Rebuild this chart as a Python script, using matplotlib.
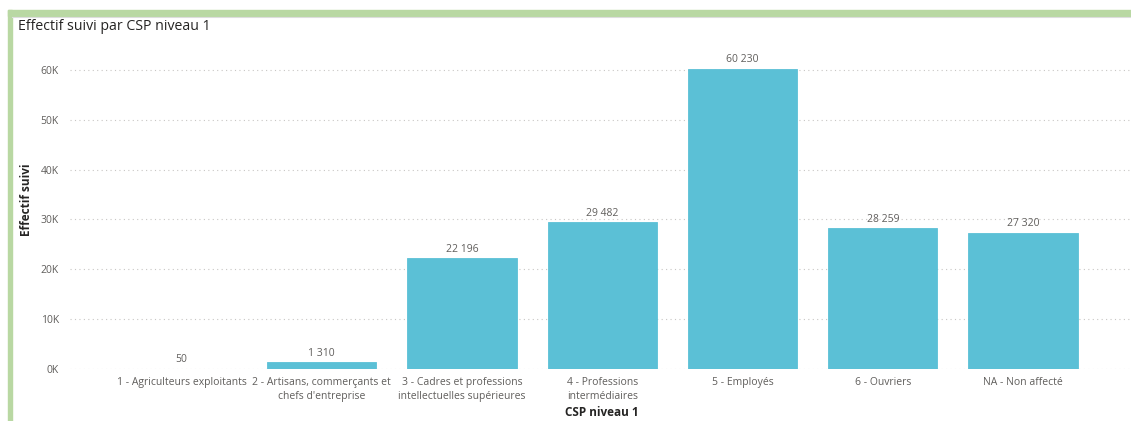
import numpy as np
import matplotlib.pyplot as plt
from matplotlib.patches import Rectangle
from matplotlib.lines import Line2D

plt.rcParams['font.family'] = ['Open Sans', 'DejaVu Sans']

# data
categories = ['1 - Agriculteurs exploitants',
              "2 - Artisans, commerçants et\nchefs d'entreprise",
              '3 - Cadres et professions\nintellectuelles supérieures',
              '4 - Professions\nintermédiaires',
              '5 - Employés',
              '6 - Ouvriers',
              'NA - Non affecté']
values = [50, 1310, 22196, 29482, 60230, 28259, 27320]
yticks = [0, 10000, 20000, 30000, 40000, 50000, 60000]
ytick_labels = ['0K', '10K', '20K', '30K', '40K', '50K', '60K']

bar_color = '#5BC0D6'
text_gray = '#605E5C'
dark = '#252423'
green = '#B9D8A3'

W, H = 1131, 421
fig = plt.figure(figsize=(W / 100, H / 100), dpi=100)

# frame of the card
fig.patches.append(Rectangle((8 / W, 0), 4 / W, (H - 10) / H, transform=fig.transFigure,
                             color=green, zorder=0))
fig.patches.append(Rectangle((8 / W, (H - 16) / H), (W - 8) / W, 6 / H, transform=fig.transFigure,
                             color=green, zorder=0))
fig.lines.append(Line2D([12 / W, 1], [(H - 16.5) / H] * 2, transform=fig.transFigure,
                        color='#DDDDDD', lw=0.8))

fig.text(18 / W, (H - 26) / H, 'Effectif suivi par CSP niveau 1', fontsize=10.2,
         color=dark, va='center', ha='left')

ax = fig.add_axes([70 / W, 52 / H, (W - 70) / W, 309 / H])
x = np.arange(len(categories))
ax.bar(x, values, width=0.78, color=bar_color, edgecolor=bar_color, linewidth=0.6, zorder=2)

for xi, v in zip(x, values):
    label = '{:,}'.format(v).replace(',', ' ')
    ax.annotate(label, (xi, v), xytext=(0, 2.5), textcoords='offset points',
                ha='center', va='bottom', fontsize=7.5, color=text_gray)

ax.set_xlim(-0.795, 6.77)
ax.set_ylim(0, 62000)
ax.set_yticks(yticks)
ax.set_yticklabels(ytick_labels)
ax.set_xticks(x)
ax.set_xticklabels(categories, linespacing=1.35)
ax.tick_params(axis='both', length=0, labelsize=7.5, colors=text_gray)
ax.tick_params(axis='y', pad=8)
ax.tick_params(axis='x', pad=6)
ax.grid(axis='y', linestyle=(0, (1, 3)), color='#C8C6C4', lw=0.8, zorder=0)
for s in ax.spines.values():
    s.set_visible(False)

fig.text(26 / W, (H - 200) / H, 'Effectif suivi', fontsize=8.5, color=dark,
         fontweight='bold', rotation=90, ha='center', va='center')
fig.text(602 / W, (H - 413) / H, 'CSP niveau 1', fontsize=8.5, color=dark,
         fontweight='bold', ha='center', va='center')

fig.savefig('out.png', dpi=100)
